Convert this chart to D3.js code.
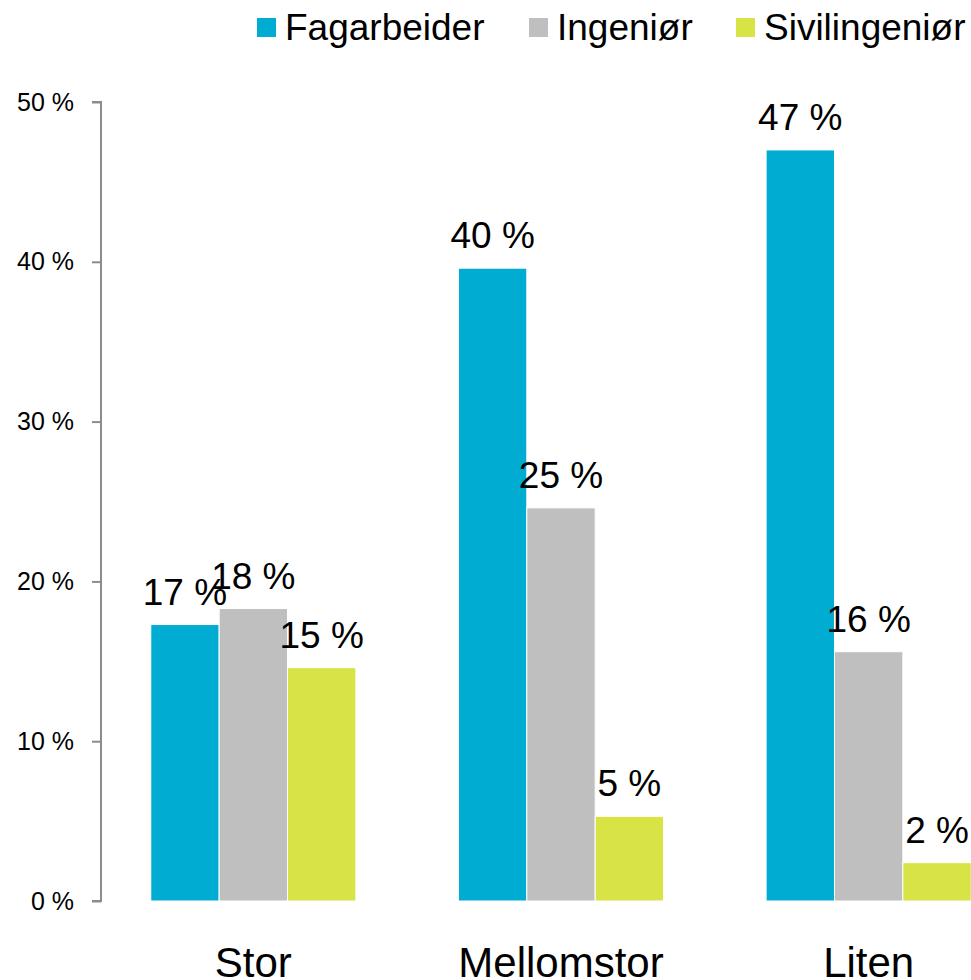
<!DOCTYPE html>
<html><head><meta charset="utf-8">
<script src="https://cdn.jsdelivr.net/npm/d3@7"></script>
<style>body{margin:0;background:#fff;overflow:hidden}svg{display:block;font-family:"Liberation Sans",Arial,sans-serif}</style>
</head><body><svg id="c" width="971" height="980"></svg>
<script>
const categories = ["Stor", "Mellomstor", "Liten"];
const seriesNames = ["Fagarbeider", "Ingeniør", "Sivilingeniør"];
const fagarbeider = [17.3, 39.6, 47.0];
const ingenior = [18.3, 24.6, 15.6];
const sivilingenior = [14.6, 5.3, 2.4];
const colors = ["#00ACD1", "#BFBFBF", "#D8E445"];
const yTicks = [0, 10, 20, 30, 40, 50];

const seriesValues = [fagarbeider, ingenior, sivilingenior];
const svg = d3.select("#c");
const y = d3.scaleLinear().domain([0, 50]).range([901, 102]);
const x0 = d3.scaleBand().domain(categories).range([99.5, 1022.5]).paddingInner(1/3).paddingOuter(1/6);
const x1 = d3.scaleBand().domain(seriesNames).range([0, x0.bandwidth()]);

// y axis
const ax = svg.append("g").attr("transform", "translate(101,0)")
  .call(d3.axisLeft(y).tickValues(yTicks).tickSize(9).tickPadding(18).tickFormat(d => d + " %"));
ax.select(".domain").attr("stroke", "#8c8c8c").attr("stroke-width", 2).attr("d", `M-9,${y(50)}H0V${y(0)}H-9`);
ax.selectAll(".tick line").attr("stroke", "#8c8c8c").attr("stroke-width", 2);
ax.selectAll(".tick text").attr("font-size", 25).attr("fill", "#000").attr("font-family", "Liberation Sans, Arial, sans-serif");

// bars
const data = [];
categories.forEach((c, i) => seriesNames.forEach((s, j) => data.push({c, s, j, v: seriesValues[j][i]})));
const g = svg.append("g");
g.selectAll("rect").data(data).join("rect")
  .attr("x", d => x0(d.c) + x1(d.s))
  .attr("width", x1.bandwidth())
  .attr("y", d => y(d.v))
  .attr("height", d => y(0) - y(d.v))
  .attr("fill", d => colors[d.j])
  .attr("stroke", "#fff").attr("stroke-width", 1);
g.selectAll("text.lbl").data(data).join("text").attr("class", "lbl")
  .attr("x", d => x0(d.c) + x1(d.s) + x1.bandwidth() / 2)
  .attr("y", d => y(d.v) - 20)
  .attr("text-anchor", "middle").attr("font-size", 37).attr("fill", "#000")
  .text(d => Math.round(d.v) + " %");

// category labels
svg.selectAll("text.cat").data(categories).join("text").attr("class", "cat")
  .attr("x", d => x0(d) + x0.bandwidth() / 2)
  .attr("y", 977).attr("text-anchor", "middle").attr("font-size", 42).attr("fill", "#000")
  .text(d => d);

// legend
const legX = [257, 529, 736];
const leg = svg.append("g");
seriesNames.forEach((s, j) => {
  leg.append("rect").attr("x", legX[j]).attr("y", 18).attr("width", 19).attr("height", 19).attr("fill", colors[j]);
  leg.append("text").attr("x", legX[j] + 28).attr("y", 40).attr("font-size", 37).attr("fill", "#000").text(s);
});
</script></body></html>
